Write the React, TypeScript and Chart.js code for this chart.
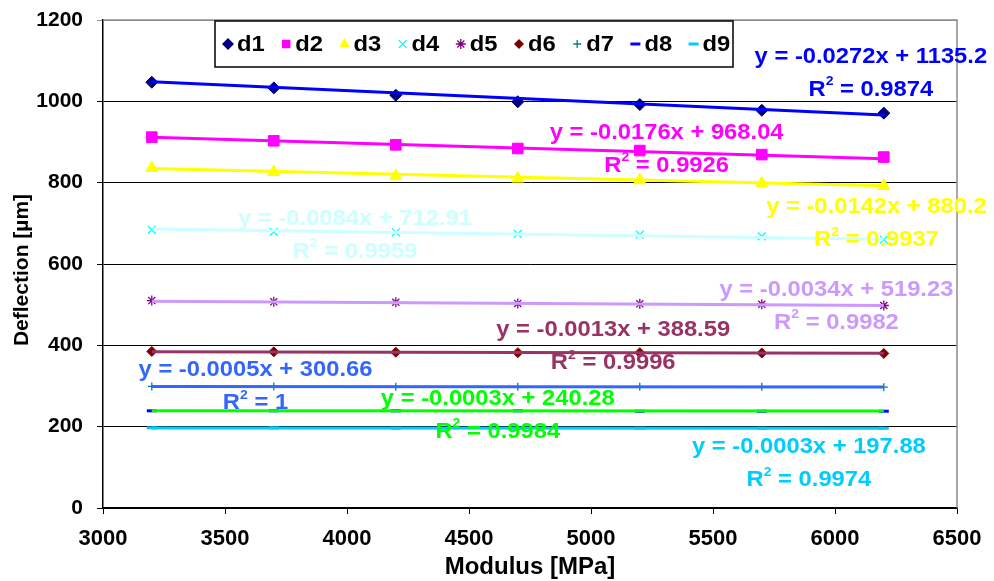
import React, { useEffect, useRef } from 'react';
import { Chart, registerables } from 'chart.js';

Chart.register(...registerables);

// ---------------- data ----------------
const modulus = [3200, 3700, 4200, 4700, 5200, 5700, 6200];
const seriesNames = ['d1', 'd2', 'd3', 'd4', 'd5', 'd6', 'd7', 'd8', 'd9'];
const d1 = [1047, 1033, 1015, 999, 992, 978, 971];
const d2 = [912, 903, 893, 884, 879, 869, 863];
const d3 = [836, 826, 816, 810, 806, 798, 792];
const d4 = [684, 679, 678, 674, 672, 668, 660];
const d5 = [510, 507, 506, 503, 502, 501, 498];
const d6 = [385, 384, 383, 382, 382, 381, 380];
const d7 = [299, 299, 298, 298, 298, 298, 297];
const d8 = [239, 239, 239, 239, 238, 238, 238];
const d9 = [197, 197, 196, 196, 196, 196, 196];
const seriesValues = [d1, d2, d3, d4, d5, d6, d7, d8, d9];

// trendline equations as printed on the chart
const trendSlopes = [-0.0272, -0.0176, -0.0142, -0.0084, -0.0034, -0.0013, -0.0005, -0.0003, -0.0003];
const trendIntercepts = [1135.2, 968.04, 880.2, 712.91, 519.23, 388.59, 300.66, 240.28, 197.88];
const trendEquations = [
  'y = -0.0272x + 1135.2',
  'y = -0.0176x + 968.04',
  'y = -0.0142x + 880.2',
  'y = -0.0084x + 712.91',
  'y = -0.0034x + 519.23',
  'y = -0.0013x + 388.59',
  'y = -0.0005x + 300.66',
  'y = -0.0003x + 240.28',
  'y = -0.0003x + 197.88',
];
const trendR2 = ['0.9874', '0.9926', '0.9937', '0.9959', '0.9982', '0.9996', '1', '0.9984', '0.9974'];

// axis settings
const xMin = 3000;
const xMax = 6500;
const xStep = 500;
const yMin = 0;
const yMax = 1200;
const yStep = 200;
const xTitle = 'Modulus [MPa]';
const yTitle = 'Deflection [µm]';

// ---------------- styles ----------------
const markerColors = ['#000080', '#FF00FF', '#FFFF00', '#00FFFF', '#800080', '#800000', '#008080', '#0000FF', '#00CCFF'];
const trendColors = ['#0000FF', '#FF00FF', '#FFFF00', '#CCFFFF', '#CC99FF', '#993366', '#3366FF', '#00FF00', '#00CCFF'];
const pointStyles = ['rectRot', 'rect', 'triangle', 'crossRot', 'star', 'rectRot', 'cross', 'line', 'line'];
const pointRadii = [6, 7.5, 7, 5.5, 5, 5, 4, 5, 5];
const pointBorderWidths = [1, 1, 1, 1.3, 1.3, 1, 1.3, 3, 3];
// label block centers (in data units of the axes)
const labelAnchors: [number, number][] = [
  [6147, 1070],
  [5310, 884],
  [6170, 700],
  [4033, 672],
  [6006, 498],
  [5091, 398],
  [3625, 299],
  [4618, 229],
  [5893, 110],
];

const FONT = '"Liberation Sans", Arial, Helvetica, sans-serif';

function fillStretched(ctx: CanvasRenderingContext2D, text: string, x: number, y: number, sx: number) {
  ctx.save();
  ctx.translate(x, y);
  ctx.scale(sx, 1);
  ctx.fillText(text, 0, 0);
  ctx.restore();
}

function drawMarker(ctx: CanvasRenderingContext2D, style: string, x: number, y: number, r: number, color: string, bw: number) {
  ctx.save();
  ctx.fillStyle = color;
  ctx.strokeStyle = color;
  ctx.lineWidth = bw;
  ctx.beginPath();
  if (style === 'rectRot') {
    ctx.moveTo(x, y - r);
    ctx.lineTo(x + r, y);
    ctx.lineTo(x, y + r);
    ctx.lineTo(x - r, y);
    ctx.closePath();
    ctx.fill();
  } else if (style === 'rect') {
    const s = r * Math.SQRT1_2;
    ctx.rect(x - s, y - s, 2 * s, 2 * s);
    ctx.fill();
  } else if (style === 'triangle') {
    const e = (3 * r) / Math.sqrt(3);
    const h = (e * Math.sqrt(3)) / 2;
    ctx.moveTo(x, y - (2 * h) / 3);
    ctx.lineTo(x + e / 2, y + h / 3);
    ctx.lineTo(x - e / 2, y + h / 3);
    ctx.closePath();
    ctx.fill();
  } else if (style === 'crossRot' || style === 'star' || style === 'cross') {
    const o = r * Math.SQRT1_2;
    if (style !== 'cross') {
      ctx.moveTo(x - o, y - o); ctx.lineTo(x + o, y + o);
      ctx.moveTo(x - o, y + o); ctx.lineTo(x + o, y - o);
    }
    if (style !== 'crossRot') {
      ctx.moveTo(x, y - r); ctx.lineTo(x, y + r);
      ctx.moveTo(x - r, y); ctx.lineTo(x + r, y);
    }
    ctx.stroke();
  } else if (style === 'line') {
    ctx.moveTo(x - r, y);
    ctx.lineTo(x + r, y);
    ctx.stroke();
  }
  ctx.restore();
}

const overlayPlugin = {
  id: 'overlay',
  beforeDatasetsDraw(chart: any) {
    const { ctx, chartArea } = chart;
    ctx.save();
    ctx.strokeStyle = '#8c8c8c';
    ctx.lineWidth = 1.5;
    ctx.beginPath();
    ctx.moveTo(chartArea.left, chartArea.top);
    ctx.lineTo(chartArea.right, chartArea.top);
    ctx.lineTo(chartArea.right, chartArea.bottom);
    ctx.stroke();
    ctx.restore();
  },
  afterDatasetsDraw(chart: any) {
    const { ctx, scales, chartArea } = chart;
    const xs = scales.x;
    const ys = scales.y;
    const size = 22;
    const sx = 1.08;
    ctx.save();
    ctx.textBaseline = 'middle';
    ctx.textAlign = 'left';
    labelAnchors.forEach(([ax, ay], i) => {
      const cx = xs.getPixelForValue(ax);
      const cy = ys.getPixelForValue(ay);
      ctx.fillStyle = trendColors[i];
      ctx.font = `bold ${size}px ${FONT}`;
      const eqW = ctx.measureText(trendEquations[i]).width * sx;
      fillStretched(ctx, trendEquations[i], cx - eqW / 2, cy - 16, sx);
      const rest = ' = ' + trendR2[i];
      ctx.font = `bold ${size}px ${FONT}`;
      const wR = ctx.measureText('R').width * sx;
      const wRest = ctx.measureText(rest).width * sx;
      ctx.font = `bold ${Math.round(size * 0.6)}px ${FONT}`;
      const w2 = ctx.measureText('2').width * sx;
      const total = wR + w2 + wRest;
      let px = cx - total / 2;
      const py = cy + 17;
      ctx.font = `bold ${size}px ${FONT}`;
      fillStretched(ctx, 'R', px, py, sx);
      px += wR;
      ctx.font = `bold ${Math.round(size * 0.6)}px ${FONT}`;
      fillStretched(ctx, '2', px, py - 8, sx);
      px += w2;
      ctx.font = `bold ${size}px ${FONT}`;
      fillStretched(ctx, rest, px, py, sx);
    });
    ctx.restore();

    // legend box
    ctx.save();
    const lx = 215, ly = 21, lw = 518, lh = 46;
    ctx.fillStyle = '#ffffff';
    ctx.fillRect(lx, ly, lw, lh);
    ctx.strokeStyle = '#000000';
    ctx.lineWidth = 1.5;
    ctx.strokeRect(lx, ly, lw, lh);
    const pitch = 58.2;
    const my = ly + lh / 2;
    ctx.font = `bold 22px ${FONT}`;
    ctx.textBaseline = 'middle';
    ctx.textAlign = 'left';
    seriesNames.forEach((name, i) => {
      const mx = 228 + i * pitch;
      drawMarker(ctx, pointStyles[i], mx, my, Math.min(pointRadii[i], 6), markerColors[i], pointBorderWidths[i]);
      ctx.fillStyle = '#000000';
      fillStretched(ctx, name, mx + 9, my + 1, 1.08);
    });
    ctx.restore();

    // axis titles
    ctx.save();
    ctx.fillStyle = '#000000';
    ctx.textAlign = 'center';
    ctx.textBaseline = 'middle';
    ctx.font = `bold 21px ${FONT}`;
    ctx.translate(22, 270);
    ctx.rotate(-Math.PI / 2);
    ctx.fillText(yTitle, 0, 0);
    ctx.restore();
    ctx.save();
    ctx.fillStyle = '#000000';
    ctx.textAlign = 'center';
    ctx.textBaseline = 'middle';
    ctx.font = `bold 24px ${FONT}`;
    ctx.fillText(xTitle, (chartArea.left + chartArea.right) / 2, 567);
    ctx.restore();
  },
};

export default function App() {
  const canvasRef = useRef<HTMLCanvasElement | null>(null);

  useEffect(() => {
    const canvas = canvasRef.current;
    if (!canvas) return;
    const markerSets = seriesValues.map((vals, i) => ({
      label: seriesNames[i],
      data: modulus.map((x, j) => ({ x, y: vals[j] })),
      showLine: false,
      pointStyle: pointStyles[i],
      pointRadius: pointRadii[i],
      pointBackgroundColor: markerColors[i],
      pointBorderColor: markerColors[i],
      pointBorderWidth: pointBorderWidths[i],
      order: 1,
    }));
    const x0 = modulus[0];
    const x1 = modulus[modulus.length - 1];
    const trendSets = trendSlopes.map((m, i) => ({
      label: seriesNames[i] + ' trend',
      data: [
        { x: x0, y: m * x0 + trendIntercepts[i] },
        { x: x1, y: m * x1 + trendIntercepts[i] },
      ],
      showLine: true,
      pointRadius: 0,
      borderColor: trendColors[i],
      borderWidth: 3,
      order: 0,
    }));

    const chart = new Chart(canvas, {
      type: 'scatter',
      data: { datasets: [...trendSets, ...markerSets] as any },
      options: {
        animation: false,
        responsive: false,
        devicePixelRatio: 1,
        layout: { padding: { left: 0, top: 20, right: 37, bottom: 0 } },
        plugins: {
          legend: { display: false },
          tooltip: { enabled: false },
        },
        scales: {
          x: {
            type: 'linear',
            min: xMin,
            max: xMax,
            ticks: {
              stepSize: xStep,
              color: '#000',
              padding: 12,
              font: { family: FONT, size: 22, weight: 'bold' },
              maxRotation: 0,
              callback: (v: any) => String(v),
            },
            grid: { drawOnChartArea: false, tickLength: 6, color: '#000', lineWidth: 1 },
            border: { color: '#000', width: 1.5 },
            title: { display: false },
            afterFit: (scale: any) => {
              scale.height = 73;
              scale.paddingLeft = 0;
              scale.paddingRight = 0;
            },
          },
          y: {
            type: 'linear',
            min: yMin,
            max: yMax,
            ticks: {
              stepSize: yStep,
              color: '#000',
              padding: 14,
              font: { family: FONT, size: 21, weight: 'bold' },
              callback: (v: any) => String(v),
            },
            grid: {
              tickLength: 6,
              color: (c: any) => (c.tick && c.tick.value === yMax ? '#8c8c8c' : '#000'),
              lineWidth: 1,
            },
            border: { color: '#000', width: 1.5 },
            title: { display: false },
            afterFit: (scale: any) => {
              scale.width = 103;
              scale.paddingTop = 0;
              scale.paddingBottom = 0;
            },
          },
        },
      },
      plugins: [overlayPlugin],
    } as any);
    return () => chart.destroy();
  }, []);

  return (
    <div style={{ position: 'absolute', left: 0, top: 0, width: 994, height: 581, background: '#fff' }}>
      <canvas ref={canvasRef} width={994} height={581} />
    </div>
  );
}
